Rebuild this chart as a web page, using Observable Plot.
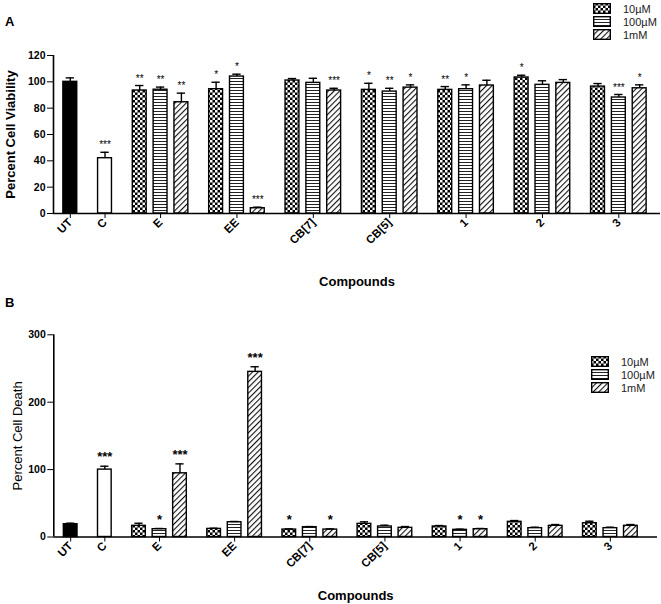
<!DOCTYPE html>
<html><head><meta charset="utf-8">
<script src="https://cdn.jsdelivr.net/npm/d3@7"></script>
<script src="https://cdn.jsdelivr.net/npm/@observablehq/plot@0.6"></script>
<style>
body{margin:0;background:#fff;font-family:"Liberation Sans",Arial,sans-serif;}
#wrap{position:relative;width:661px;height:604px;overflow:hidden;background:#fff;}
.panel{position:absolute;left:0;}
.tag{position:absolute;left:5px;font-weight:bold;font-size:13px;line-height:15px;}
.legend{position:absolute;font-size:11px;color:#222;}
.legend .row{display:flex;align-items:center;height:13px;}
.legend svg{margin-right:12px;display:block}
[aria-label="y-axis label"] text,[aria-label="x-axis label"] text{font-size:13px}
[aria-label="x-axis tick label"] text{font-size:11.5px}
#panelB [aria-label="y-axis label"] text{font-weight:normal}
</style></head>
<body><div id="wrap">
<svg width="0" height="0" style="position:absolute"><defs>
<pattern id="pChecker" width="5" height="5" patternUnits="userSpaceOnUse"><rect width="5" height="5" fill="black"/><rect width="2.5" height="2.5" fill="white"/><rect x="2.5" y="2.5" width="2.5" height="2.5" fill="white"/></pattern>
<pattern id="pStripe" width="4" height="3" patternUnits="userSpaceOnUse"><rect width="4" height="3" fill="white"/><rect y="0" width="4" height="1" fill="#222"/></pattern>
<pattern id="pHatch" width="4" height="4" patternUnits="userSpaceOnUse" patternTransform="rotate(45)"><rect width="4" height="4" fill="white"/><rect width="1.1" height="4" fill="#111"/></pattern>
</defs></svg>
<div class="panel" id="panelA" style="top:0"></div>
<div class="panel" id="panelB" style="top:290px"></div>
<div class="tag" style="top:14px">A</div>
<div class="tag" style="top:295px">B</div>
<div class="legend" id="legendA" style="left:593px;top:2px"></div>
<div class="legend" id="legendB" style="left:591px;top:355px"></div>
</div>
<script>
// ---- categories ----
const controls = ["UT", "C"];
const compounds = ["E", "EE", "CB[7]", "CB[5]", "1", "2", "3"];
const concentrations = ["10µM", "100µM", "1mM"];

// ---- Panel A: Percent Cell Viability ----
const viabilityControl = [100, 42];
const viabilityControlErr = [3, 4.5];
const viabilityControlSig = ["", "***"];
const viability10 = [93.4, 94.4, 101, 93.9, 93.9, 103.3, 96.4];
const viability10Err = [3.8, 5.3, 1.5, 5, 2.5, 1.7, 2.3];
const viability10Sig = ["**", "*", "", "*", "**", "*", ""];
const viability100 = [94, 104, 99.2, 92.6, 94.4, 97.7, 88.1];
const viability100Err = [2, 1.8, 3.5, 2.5, 3.3, 3.1, 2.3];
const viability100Sig = ["**", "*", "", "**", "*", "", "***"];
const viability1mM = [84.5, 4, 93.4, 95.6, 97.2, 99.2, 95.1];
const viability1mMErr = [6.9, 0.8, 1.7, 2.1, 4, 2.5, 2.6];
const viability1mMSig = ["**", "***", "***", "*", "", "", "*"];

// ---- Panel B: Percent Cell Death ----
const deathControl = [19, 100];
const deathControlErr = [1.5, 5];
const deathControlSig = ["", "***"];
const death10 = [16.6, 12, 11, 19.5, 15.6, 22.5, 20.4];
const death10Err = [3.8, 1, 1, 3, 1.4, 1.9, 3];
const death10Sig = ["", "", "*", "", "", "", ""];
const death100 = [11.6, 21.9, 14.5, 15.6, 10.6, 13.1, 13.1];
const death100Err = [1, 1.1, 1, 1.9, 1, 1.4, 1.4];
const death100Sig = ["*", "", "", "", "*", "", ""];
const death1mM = [94.5, 245, 11, 13.6, 11.6, 16.6, 16.6];
const death1mMErr = [14, 7.6, 1, 1.9, 1, 1.9, 1.9];
const death1mMSig = ["***", "***", "*", "", "*", "", ""];

// ---- layout (slot units: controls apart by 5, group step 11, bars within group 3) ----
function buildRows(ctrlV, ctrlE, ctrlS, series) {
  const rows = [];
  controls.forEach((name, i) => rows.push({key: name, compound: name, value: ctrlV[i], err: ctrlE[i], sig: ctrlS[i], pos: i * 5}));
  compounds.forEach((name, g) => {
    const center = 13 + 11 * g;
    concentrations.forEach((c, k) => {
      const [v, e, s] = series[k];
      rows.push({key: c, compound: name, value: v[g], err: e[g], sig: s[g], pos: center + (k - 1) * 3});
    });
  });
  return rows;
}
const tickPos = [...controls.map((_, i) => i * 5), ...compounds.map((_, g) => 13 + 11 * g)];
const tickName = new Map(tickPos.map((p, i) => [p, [...controls, ...compounds][i]]));

const fills = {"UT": "black", "C": "white", "10µM": "url(#pChecker)", "100µM": "url(#pStripe)", "1mM": "url(#pHatch)"};

function panel(o) {
  const keys = [...controls, ...concentrations];
  return Plot.plot({
    width: 661, height: o.height,
    marginTop: o.marginTop, marginBottom: o.marginBottom, marginLeft: o.marginLeft, marginRight: o.marginRight,
    style: {fontFamily: "'Liberation Sans', Arial, sans-serif", fontWeight: "bold", fontSize: "10.5px", color: "black", background: "white"},
    x: {domain: o.xDomain, ticks: tickPos, tickFormat: p => tickName.get(p), tickRotate: -45, tickSize: 5, tickPadding: 2,
        label: "Compounds", labelAnchor: "center", labelOffset: o.xLabelOffset, labelArrow: false},
    y: {domain: o.yDomain, ticks: o.yTicks, tickSize: 6, tickPadding: 2,
        label: o.yLabel, labelAnchor: "center", labelOffset: o.yLabelOffset, labelArrow: false},
    marks: [
      ...keys.map(k => Plot.rect(o.rows.filter(d => d.key === k), {
        x1: d => d.pos - 1, x2: d => d.pos + 1, y1: 0, y2: "value",
        fill: fills[k], stroke: "black", strokeWidth: 1.4})),
      Plot.ruleX(o.rows, {x: "pos", y1: "value", y2: d => d.value + d.err, stroke: "black", strokeWidth: 1.4}),
      Plot.ruleY(o.rows, {y: d => d.value + d.err, x1: d => d.pos - 0.6, x2: d => d.pos + 0.6, stroke: "black", strokeWidth: 1.4}),
      Plot.text(o.rows.filter(d => d.sig), {x: "pos", y: d => d.value + d.err, text: "sig", dy: o.sigDy,
        fontSize: o.sigSize, fontWeight: o.sigWeight, fill: o.sigColor}),
      Plot.ruleY([0], {stroke: "black", strokeWidth: 1.6}),
      Plot.ruleX([o.xDomain[0]], {stroke: "black", strokeWidth: 1.6})
    ]
  });
}

const rowsA = buildRows(viabilityControl, viabilityControlErr, viabilityControlSig, [
  [viability10, viability10Err, viability10Sig],
  [viability100, viability100Err, viability100Sig],
  [viability1mM, viability1mMErr, viability1mMSig]]);
const rowsB = buildRows(deathControl, deathControlErr, deathControlSig, [
  [death10, death10Err, death10Sig],
  [death100, death100Err, death100Sig],
  [death1mM, death1mMErr, death1mMSig]]);

document.getElementById("panelA").append(panel({
  rows: rowsA, height: 290, marginTop: 55, marginBottom: 77, marginLeft: 53, marginRight: 1,
  xDomain: [-2.42, 85.0], yDomain: [0, 120], yTicks: [0, 20, 40, 60, 80, 100, 120],
  yLabel: "Percent Cell Viability", yLabelOffset: 48, xLabelOffset: 72,
  sigSize: 10, sigWeight: "normal", sigColor: "black", sigDy: -7
}));
document.getElementById("panelB").append(panel({
  rows: rowsB, height: 314, marginTop: 44.3, marginBottom: 67.5, marginLeft: 53.3, marginRight: 4,
  xDomain: [-2.47, 85.9], yDomain: [0, 300], yTicks: [0, 100, 200, 300],
  yLabel: "Percent Cell Death", yLabelOffset: 41, xLabelOffset: 63,
  sigSize: 13, sigWeight: "bold", sigColor: "black", sigDy: -9
}));

function legend(id) {
  const el = document.getElementById(id);
  concentrations.forEach(c => {
    const row = document.createElement("div");
    row.className = "row";
    row.innerHTML = `<svg width="18" height="11"><rect x="0.7" y="0.7" width="16.6" height="9.6" fill="${fills[c]}" stroke="black" stroke-width="1.4"/></svg><span>${c}</span>`;
    el.append(row);
  });
}
legend("legendA");
legend("legendB");
</script>
</body></html>
